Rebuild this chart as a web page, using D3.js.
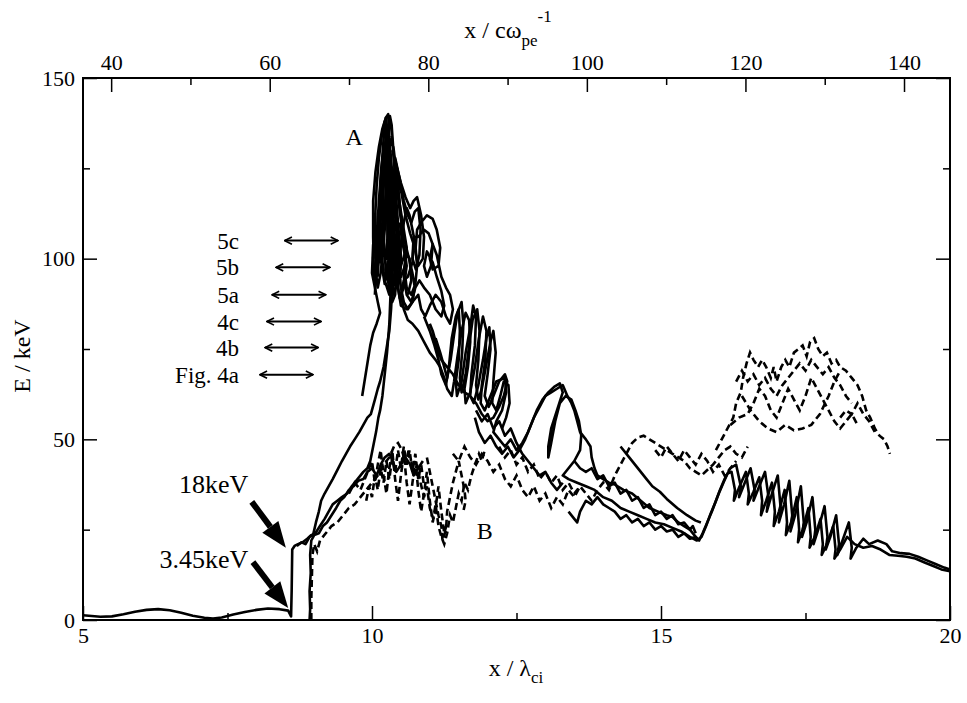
<!DOCTYPE html>
<html>
<head>
<meta charset="utf-8">
<script src="https://cdn.jsdelivr.net/npm/d3@7"></script>
<style>
  body { margin: 0; background: #fff; }
</style>
</head>
<body>
<script>
// axis ticks
var xMajor = [5, 10, 15, 20];
var xMinor = [7.5, 12.5, 17.5];
var yMajor = [0, 50, 100, 150];
var yMinor = [25, 75, 125];
var topMajor = [40, 60, 80, 100, 120, 140];
var topMinor = [50, 70, 90, 110, 130];
var topDomain = [36.45, 145.8];   // x in c/wpe at both ends of the plot

// trajectories, [x / lambda_ci, E / keV]
var solidMain = [[5.00,1.3],[5.15,1.1],[5.3,0.9],[5.5,1.0],[5.7,1.6],[5.9,2.3],[6.1,2.8],[6.3,3.0],[6.5,2.7],[6.7,2.0],[6.9,1.2],[7.1,0.6],[7.25,0.4],[7.4,0.7],[7.6,1.5],[7.8,2.2],[8.0,2.8],[8.2,3.2],[8.4,3.0],[8.55,2.6],[8.6,1.0],[8.61,8],[8.62,19.5],[8.66,20.5],[8.72,21],[8.8,21.5],[8.88,22.5],[8.95,23.5],[9.02,24],[9.1,26],[9.18,28],[9.25,30],[9.32,32],[9.4,33],[9.48,34],[9.57,35],[9.65,37],[9.75,39],[9.85,41],[9.92,42],[9.97,44],[10.02,48],[10.07,52],[10.11,56],[10.14,58],[10.18,62],[10.22,68],[10.26,74],[10.3,82],[10.32,90],[10.3,98],[10.27,108],[10.25,118],[10.27,128],[10.3,136],[10.31,139.5],[10.34,137],[10.37,130],[10.4,122],[10.43,114],[10.47,106],[10.5,101],[10.47,96],[10.4,93],[10.33,97],[10.28,106],[10.26,116],[10.28,126],[10.32,133],[10.37,131],[10.42,124],[10.48,115],[10.55,108],[10.6,103],[10.57,98],[10.5,95],[10.42,96],[10.36,104],[10.35,114],[10.38,122],[10.43,125],[10.5,119],[10.58,112],[10.66,107],[10.72,104],[10.7,99],[10.62,95],[10.55,94],[10.5,90],[10.55,86],[10.62,83],[10.7,82],[10.8,80],[10.9,77],[11.0,74],[11.1,72],[11.18,70],[11.25,67],[11.3,64],[11.38,62],[11.42,66],[11.48,73],[11.55,80],[11.62,85],[11.68,83],[11.7,77],[11.66,70],[11.6,64],[11.62,60],[11.7,63],[11.78,70],[11.85,78],[11.92,84],[11.98,80],[11.96,72],[11.9,65],[11.88,60],[11.95,58],[12.05,62],[12.15,66],[12.3,67],[12.32,63],[12.25,58],[12.15,55],[12.1,52],[12.2,50],[12.3,48],[12.4,50],[12.5,47],[12.6,49],[12.7,52],[12.8,56],[12.9,59],[13.0,62],[13.1,63],[13.2,64],[13.3,65],[13.38,62],[13.45,60],[13.5,58],[13.55,55],[13.6,52],[13.7,50],[13.78,48],[13.8,45],[13.85,42],[13.9,40],[14.0,39],[14.1,38],[14.2,37.5],[14.35,36],[14.5,35],[14.65,33],[14.8,31],[14.95,30],[15.1,29],[15.2,28.5],[15.3,27],[15.4,26],[15.5,25],[15.6,23],[15.66,22],[15.72,24],[15.8,27],[15.88,30],[15.95,33],[16.02,36],[16.1,39],[16.2,42],[16.3,43],[16.38,37],[16.35,34],[16.45,38],[16.55,42],[16.62,36],[16.6,33],[16.7,37],[16.8,41],[16.86,34],[16.83,30],[16.92,35],[17.02,40],[17.07,31],[17.04,27],[17.13,32],[17.22,38.5],[17.27,29],[17.24,24.5],[17.32,29],[17.42,37],[17.47,27],[17.44,23],[17.52,27],[17.62,34],[17.67,25],[17.64,21],[17.72,25],[17.83,31.5],[17.88,23],[17.85,19.5],[17.93,23],[18.03,29],[18.08,21],[18.05,18],[18.13,21.5],[18.25,27],[18.3,20],[18.28,17],[18.38,20],[18.5,22.5],[18.6,21],[18.75,22],[18.9,21],[19.0,19],[19.15,18.5],[19.3,18.3],[19.45,17.5],[19.6,16.5],[19.75,15.5],[19.9,14.5],[20.0,14]];

var solidRise = [[8.7,20.5],[8.78,21.5],[8.85,21],[8.92,23],[8.98,23.5],[9.03,27],[9.08,30],[9.12,33],[9.18,35],[9.25,37],[9.32,39],[9.4,41.5],[9.48,44],[9.55,46],[9.62,48],[9.7,50],[9.78,52],[9.85,54],[9.92,56],[9.98,57],[10.05,61],[10.1,64],[10.14,66],[10.2,70],[10.25,75],[10.3,80],[10.33,86],[10.35,92]];

var solidLeftStrand = [[9.83,62],[9.87,66],[9.92,71],[9.97,76],[10.02,79.5],[10.08,82],[10.14,85],[10.1,88],[10.05,92],[10.03,98],[10.02,106],[10.02,116],[10.06,124],[10.12,131],[10.18,136],[10.24,139],[10.28,140],[10.3,133],[10.33,124],[10.36,114],[10.4,105],[10.42,97],[10.4,90],[10.35,88],[10.3,92],[10.22,100],[10.18,110],[10.17,120],[10.2,128],[10.24,133],[10.28,130],[10.31,120],[10.33,110],[10.35,100],[10.36,94],[10.3,90],[10.22,94],[10.15,102],[10.12,112],[10.15,120],[10.2,124],[10.26,118],[10.3,108],[10.28,98],[10.22,93],[10.18,97],[10.14,104],[10.1,98],[10.05,92],[10.0,96],[10.02,104]];

var solidPeakCore1 = [[10.1,95],[10.14,108],[10.18,120],[10.22,130],[10.26,137],[10.3,132],[10.32,122],[10.35,112],[10.38,102],[10.4,95],[10.36,92],[10.3,100],[10.27,112],[10.26,124],[10.28,134],[10.33,128],[10.37,118],[10.42,108],[10.45,100],[10.43,93],[10.38,90],[10.33,96],[10.3,106],[10.3,118],[10.32,127],[10.36,124],[10.4,115],[10.45,106],[10.5,100],[10.48,94],[10.42,92],[10.37,99],[10.35,110],[10.37,120],[10.4,126],[10.45,120],[10.5,112],[10.55,104],[10.6,98],[10.55,92],[10.48,89],[10.42,95],[10.4,104]];

var solidPeakCore2 = [[10.05,90],[10.08,100],[10.12,112],[10.16,124],[10.2,133],[10.24,139],[10.27,135],[10.29,125],[10.31,114],[10.33,104],[10.34,96],[10.3,92],[10.24,97],[10.2,107],[10.19,118],[10.21,128],[10.25,131],[10.28,122],[10.3,112],[10.32,102],[10.28,95],[10.2,96],[10.15,104],[10.13,115],[10.16,124],[10.2,127],[10.24,120],[10.27,110],[10.26,100],[10.2,101],[10.17,110]];

var solidPeakCore3 = [[10.02,100],[10.05,110],[10.08,120],[10.12,128],[10.17,134],[10.22,138],[10.26,133],[10.28,124],[10.25,114],[10.2,104],[10.15,96],[10.1,92],[10.06,97],[10.08,106],[10.12,116],[10.16,125],[10.2,130],[10.24,126],[10.23,116],[10.19,106],[10.14,99],[10.1,103],[10.12,112]];

var solidPeakCore4 = [[10.34,134],[10.38,128],[10.43,120],[10.48,113],[10.53,108],[10.58,104],[10.64,100],[10.7,96],[10.74,92],[10.7,88],[10.62,86],[10.55,88],[10.5,92],[10.47,98],[10.5,104],[10.55,110],[10.6,114],[10.65,112],[10.7,108],[10.75,104],[10.78,98],[10.75,93],[10.68,90],[10.6,92],[10.56,97],[10.6,102]];

var solidPeakRight = [[10.35,130],[10.42,126],[10.5,121],[10.58,117],[10.66,114],[10.72,116],[10.78,117],[10.85,112],[10.9,106],[10.88,100],[10.8,98],[10.75,102],[10.78,108],[10.85,110],[10.95,112],[11.05,111],[11.12,108],[11.18,103],[11.15,98],[11.05,97],[11.0,100],[11.05,104],[11.12,101],[11.2,95],[11.28,92],[11.35,90],[11.4,86],[11.35,82],[11.28,84],[11.2,88],[11.1,90],[11.0,87],[10.92,84],[10.85,86],[10.8,90],[10.7,88],[10.6,86],[10.5,87],[10.45,92],[10.5,98],[10.58,102],[10.65,100],[10.68,94],[10.62,90]];

var solidPeakRight2 = [[10.4,128],[10.48,122],[10.55,116],[10.62,112],[10.68,110],[10.74,113],[10.8,114],[10.84,108],[10.82,101],[10.76,97],[10.7,100],[10.72,106],[10.8,106],[10.9,108],[10.98,107],[11.05,104],[11.02,98],[10.95,95],[10.9,98],[10.95,102],[11.05,99],[11.12,95],[11.2,91],[11.25,87],[11.2,84],[11.1,86],[11.0,90],[10.9,92],[10.82,94],[10.75,92],[10.68,88],[10.6,90],[10.55,95],[10.58,100],[10.52,105],[10.48,110]];

var solidLoops = [[10.9,84],[11.0,80],[11.08,76],[11.15,72],[11.2,68],[11.28,65],[11.33,70],[11.38,78],[11.45,84],[11.5,86],[11.52,80],[11.5,72],[11.45,66],[11.47,62],[11.55,66],[11.62,74],[11.7,81],[11.75,87],[11.8,84],[11.78,76],[11.72,68],[11.7,62],[11.76,60],[11.84,65],[11.92,72],[11.98,78],[12.03,81],[12.05,75],[12.0,68],[11.95,62],[12.02,59],[12.1,62],[12.2,66],[12.3,68],[12.34,66],[12.28,62],[12.2,59],[12.1,56],[12.0,55],[11.9,57],[11.8,60],[11.7,62],[11.6,63],[11.5,65],[11.4,68],[11.3,70],[11.2,72],[11.12,76],[11.05,80],[11.0,82]];

var solidLoops2 = [[11.1,78],[11.18,74],[11.25,70],[11.3,67],[11.36,72],[11.42,79],[11.48,85],[11.55,88],[11.58,82],[11.56,74],[11.52,67],[11.55,63],[11.62,68],[11.68,76],[11.74,83],[11.82,86],[11.86,80],[11.84,72],[11.8,65],[11.84,61],[11.9,64],[11.98,71],[12.05,77],[12.1,80],[12.14,74],[12.1,66],[12.08,60],[12.15,58],[12.22,62],[12.28,66],[12.36,65],[12.38,60],[12.32,56],[12.25,53]];

var solidSecondBand = [[11.78,56],[11.85,52],[11.95,49],[12.05,51],[12.15,48],[12.25,46],[12.35,48],[12.45,45],[12.55,47],[12.65,50],[12.75,54],[12.85,58],[12.95,61],[13.05,63],[13.15,64.5],[13.25,65.5],[13.3,63],[13.2,58],[13.1,53],[13.05,48],[13.05,45],[13.1,49],[13.17,55],[13.25,60],[13.35,62],[13.45,61],[13.52,58],[13.58,55],[13.62,51],[13.6,47],[13.5,44],[13.4,42],[13.3,40],[13.4,39],[13.55,38],[13.7,37],[13.85,36],[14.0,34],[14.15,33],[14.3,31],[14.45,30],[14.6,29],[14.75,28],[14.9,27],[15.05,26.5],[15.2,25.5],[15.35,24.5],[15.5,23],[15.62,22],[15.7,23],[15.78,26],[15.86,29.5],[15.94,32.5],[16.0,35],[16.08,38],[16.15,40.5],[16.22,41],[16.28,36],[16.26,33],[16.36,37],[16.47,41],[16.52,35],[16.5,32],[16.6,35.5],[16.7,39.5],[16.75,33],[16.73,29],[16.82,33],[16.92,38],[16.97,30],[16.95,26],[17.04,30],[17.14,36],[17.18,27],[17.16,23.5],[17.25,27],[17.35,34],[17.39,25],[17.37,21.5],[17.45,25],[17.55,31],[17.59,23],[17.57,20],[17.66,23],[17.76,28],[17.8,21],[17.78,18],[17.87,21],[17.98,26],[18.02,19.5],[18.0,17],[18.1,19.5],[18.22,23],[18.35,21],[18.5,20],[18.65,20.5],[18.8,19.5],[18.95,18],[19.1,17.8],[19.25,17.5],[19.4,17],[19.55,16],[19.7,15],[19.85,14],[20.0,13.5]];

var solidBand2 = [[13.5,44],[13.6,42],[13.7,41],[13.8,42],[13.9,39],[14.0,40],[14.1,37],[14.2,38],[14.3,35],[14.4,36],[14.5,33],[14.6,34],[14.7,31],[14.8,32],[14.9,29],[15.0,30],[15.1,28],[15.2,29],[15.3,26.5],[15.4,27],[15.5,25],[15.55,26],[15.6,24]];

var solidBand3 = [[13.4,30],[13.5,28],[13.55,27],[13.6,30],[13.7,33],[13.8,32],[13.9,34],[14.0,32],[14.1,31],[14.2,30],[14.3,28],[14.4,29],[14.5,27],[14.6,28],[14.7,26],[14.8,27],[14.9,25],[15.0,26],[15.1,24.5],[15.2,25],[15.3,23],[15.4,24],[15.5,22.5],[15.6,23],[15.65,22]];

var solidArc = [[14.3,48],[14.45,45],[14.55,43],[14.65,41],[14.75,39],[14.85,37],[14.98,35.5],[15.1,33.5],[15.28,31],[15.45,29],[15.6,27.5],[15.69,27]];

var solidLowerBand = [[8.92,0],[8.93,3],[8.92,8],[8.94,13],[8.93,18],[8.95,22],[9.0,23.5],[9.08,24],[9.15,26],[9.22,27],[9.3,29],[9.38,31],[9.45,33],[9.52,34],[9.6,36],[9.68,37],[9.76,38.5],[9.85,39],[9.92,41],[10.0,42],[10.08,40],[10.15,43],[10.22,45],[10.3,46],[10.36,44],[10.42,41],[10.5,43],[10.58,45],[10.66,43],[10.72,40],[10.8,42],[10.88,44]];

var solidMidJag = [[11.8,58],[11.9,55],[12.0,57],[12.1,53],[12.2,55],[12.3,51],[12.4,53],[12.5,49],[12.6,46],[12.7,44],[12.8,42],[12.9,40],[13.0,41],[13.1,38],[13.2,36],[13.3,38]];

var dashedLeft = [[8.95,0],[8.95,6],[8.96,12],[8.97,18],[9.0,21],[9.05,19],[9.1,22],[9.2,24],[9.3,26],[9.4,27],[9.5,29],[9.6,31],[9.7,32],[9.8,34],[9.9,36],[10.0,38],[10.1,40],[10.2,43],[10.3,45],[10.38,48],[10.45,49],[10.52,47],[10.58,43],[10.62,46],[10.68,44],[10.72,40],[10.78,43],[10.84,38],[10.9,34],[10.95,37],[11.0,31],[11.06,28],[11.1,32],[11.15,26],[11.2,23],[11.25,21],[11.3,24],[11.35,29],[11.4,27],[11.45,31],[11.5,35],[11.55,33],[11.6,38],[11.66,36],[11.72,40],[11.78,43],[11.85,46],[11.9,44],[11.95,47]];

var dashedB = [[9.6,35],[9.7,38],[9.8,36],[9.9,40],[10.0,44],[10.05,38],[10.1,43],[10.15,47],[10.2,40],[10.25,35],[10.3,42],[10.35,47],[10.4,39],[10.45,33],[10.5,40],[10.55,46],[10.6,38],[10.65,32],[10.7,38],[10.75,44],[10.8,36],[10.85,30],[10.9,35],[10.95,41],[11.0,33],[11.05,27],[11.1,31],[11.15,37],[11.2,30],[11.25,24],[11.3,27]];

var dashedB2 = [[9.9,33],[9.95,37],[10.0,34],[10.05,40],[10.1,36],[10.15,42],[10.2,38],[10.25,44],[10.3,39],[10.35,45],[10.4,41],[10.45,47],[10.5,42],[10.55,48],[10.6,43],[10.65,47],[10.7,41],[10.75,46],[10.8,39],[10.85,43],[10.9,37]];

var dashedRightB = [[10.95,45],[11.0,41],[11.05,37],[11.1,33],[11.15,29],[11.2,26],[11.22,22],[11.28,25],[11.3,30],[11.35,34],[11.4,38],[11.45,41],[11.5,44],[11.55,40],[11.6,36],[11.62,33],[11.58,30]];

var dashedMid = [[11.4,46],[11.5,44],[11.6,48],[11.7,45],[11.8,43],[11.9,46],[12.0,44],[12.1,41],[12.2,43],[12.3,39],[12.4,37],[12.5,40],[12.6,36],[12.7,34],[12.8,37],[12.9,33],[13.0,35],[13.1,31],[13.2,34],[13.3,32],[13.4,36],[13.5,34],[13.6,37],[13.7,35],[13.8,33],[13.9,36],[14.0,38],[14.1,36],[14.2,40],[14.3,43],[14.4,46],[14.5,49],[14.6,50.5],[14.7,51],[14.8,50],[14.9,49],[15.0,48],[15.1,47],[15.2,46],[15.3,45],[15.4,44],[15.5,42],[15.6,41],[15.7,40],[15.8,41.5],[15.9,43],[16.0,45],[16.1,47],[16.2,48],[16.3,46],[16.4,45],[16.5,48]];

var dashedMid2 = [[12.2,48],[12.3,45],[12.4,47],[12.5,43],[12.6,45],[12.7,41],[12.8,43],[12.9,39],[13.0,41],[13.1,38],[13.2,40],[13.3,36],[13.4,38],[13.5,35],[13.6,37]];

var dashedArch2 = [[14.9,47],[15.0,45],[15.1,48],[15.2,46],[15.3,44],[15.4,47],[15.5,45],[15.6,43],[15.7,46],[15.8,44],[15.9,41],[16.0,43],[16.1,40],[16.2,42],[16.3,44]];

var dashedHump = [[15.95,47],[16.05,50],[16.15,53],[16.25,56],[16.3,60],[16.38,63],[16.42,67],[16.48,71],[16.54,74],[16.6,72],[16.68,70],[16.75,72],[16.82,70],[16.9,67],[16.95,70],[17.0,66],[17.08,70],[17.15,72],[17.22,70],[17.3,74],[17.38,75],[17.45,76],[17.52,73],[17.58,77],[17.65,78],[17.72,75],[17.8,73],[17.87,74],[17.95,71],[18.03,72],[18.1,70],[18.2,69],[18.3,67],[18.4,65],[18.48,62],[18.55,58],[18.62,56],[18.7,53],[18.78,51],[18.86,50],[18.92,48],[18.96,46]];

var dashedHump2 = [[16.3,66],[16.4,69],[16.5,66],[16.6,68],[16.7,65],[16.8,67],[16.9,64],[17.0,62],[17.1,65],[17.2,67],[17.3,69],[17.4,71],[17.5,69],[17.6,72],[17.7,70],[17.8,68],[17.9,70],[18.0,67],[18.1,65],[18.2,62],[18.3,60]];

var dashedHumpInner = [[16.2,54],[16.35,56],[16.5,57],[16.6,60],[16.7,64],[16.8,62],[16.9,58],[17.0,56],[17.1,60],[17.2,64],[17.3,61],[17.4,58],[17.5,62],[17.6,67],[17.7,64],[17.8,61],[17.9,58],[18.0,55],[18.1,53],[18.2,55],[18.3,57],[18.4,54]];

var dashedHumpLow = [[16.4,62],[16.55,58],[16.7,55],[16.85,53],[17.0,52],[17.15,54],[17.3,52.5],[17.45,53],[17.6,54],[17.75,57],[17.9,62],[18.0,66],[18.1,69]];

var dashedHumpRight = [[18.1,56],[18.2,58],[18.3,57],[18.4,60],[18.5,57],[18.6,55],[18.7,52]];

// x ranges marked with double arrows
var rangeLabels = ["Fig. 4a", "4b", "4c", "5a", "5b", "5c"];
var rangeStart = [8.06, 8.15, 8.18, 8.27, 8.34, 8.49];
var rangeEnd = [8.98, 9.07, 9.12, 9.20, 9.27, 9.41];
var rangeE = [67.9, 75.4, 82.6, 90.0, 97.6, 105.0];

// energy arrows
var energyLabels = ["18keV", "3.45keV"];
var energyLabelAt = [[7.86, 35.2], [7.86, 14.4]];
var energyTail = [[7.92, 32.7], [7.94, 16.0]];
var energyTip = [[8.51, 20.0], [8.55, 3.3]];

var W = 967, H = 703;
var m = {left: 83, right: 950, top: 78, bottom: 620};
var serif = "'Liberation Serif', 'Times New Roman', Times, serif";

var svg = d3.select("body").append("svg")
  .attr("width", W)
  .attr("height", H)
  .style("font-family", serif);

var x = d3.scaleLinear().domain([5, 20]).range([m.left, m.right]);
var xTop = d3.scaleLinear().domain(topDomain).range([m.left, m.right]);
var y = d3.scaleLinear().domain([0, 150]).range([m.bottom, m.top]);

function txt(sel, size) {
  return sel.style("font-family", serif).style("font-size", size + "px").attr("fill", "#000");
}

// axes, ticks pointing inward
function styleAxis(g) {
  g.attr("font-family", null);
  g.select(".domain").remove();
  g.selectAll(".tick line").attr("stroke", "#000").attr("stroke-width", 1.5);
  txt(g.selectAll("text"), 22);
}

svg.append("g").attr("transform", "translate(0," + m.bottom + ")")
  .call(d3.axisBottom(x).tickValues(xMajor).tickSize(-14).tickSizeOuter(0).tickPadding(7).tickFormat(d3.format("d")))
  .call(styleAxis);
svg.append("g").attr("transform", "translate(0," + m.bottom + ")")
  .call(d3.axisBottom(x).tickValues(xMinor).tickSize(-7).tickFormat(""))
  .call(styleAxis);

svg.append("g").attr("transform", "translate(0," + m.top + ")")
  .call(d3.axisTop(xTop).tickValues(topMajor).tickSize(-14).tickPadding(8).tickFormat(d3.format("d")))
  .call(styleAxis);
svg.append("g").attr("transform", "translate(0," + m.top + ")")
  .call(d3.axisTop(xTop).tickValues(topMinor).tickSize(-7).tickFormat(""))
  .call(styleAxis);

svg.append("g").attr("transform", "translate(" + m.left + ",0)")
  .call(d3.axisLeft(y).tickValues(yMajor).tickSize(-14).tickPadding(8).tickFormat(d3.format("d")))
  .call(styleAxis);
svg.append("g").attr("transform", "translate(" + m.left + ",0)")
  .call(d3.axisLeft(y).tickValues(yMinor).tickSize(-7).tickFormat(""))
  .call(styleAxis);

svg.append("g").attr("transform", "translate(" + m.right + ",0)")
  .call(d3.axisRight(y).tickValues(yMajor).tickSize(-14).tickFormat(""))
  .call(styleAxis);
svg.append("g").attr("transform", "translate(" + m.right + ",0)")
  .call(d3.axisRight(y).tickValues(yMinor).tickSize(-7).tickFormat(""))
  .call(styleAxis);

// plot frame
svg.append("rect")
  .attr("x", m.left).attr("y", m.top)
  .attr("width", m.right - m.left).attr("height", m.bottom - m.top)
  .attr("fill", "none").attr("stroke", "#000").attr("stroke-width", 2);

// curves
var line = d3.line().x(function(d){ return x(d[0]); }).y(function(d){ return y(d[1]); });
var plot = svg.append("g");

var solids = [solidMain, solidRise, solidLeftStrand, solidPeakCore1, solidPeakCore2, solidPeakCore3, solidPeakCore4,
  solidPeakRight, solidPeakRight2, solidLoops, solidLoops2, solidSecondBand, solidBand2, solidBand3, solidArc,
  solidLowerBand, solidMidJag];
var dashes = [dashedLeft, dashedB, dashedB2, dashedRightB, dashedMid, dashedMid2, dashedArch2,
  dashedHump, dashedHump2, dashedHumpInner, dashedHumpLow, dashedHumpRight];

plot.selectAll(".solid").data(solids).enter().append("path")
  .attr("class", "solid")
  .attr("d", line)
  .attr("fill", "none").attr("stroke", "#000")
  .attr("stroke-width", 2.6).attr("stroke-linejoin", "round");

plot.selectAll(".dash").data(dashes).enter().append("path")
  .attr("class", "dash")
  .attr("d", line)
  .attr("fill", "none").attr("stroke", "#000")
  .attr("stroke-width", 2.6).attr("stroke-dasharray", "7,4");

// double arrows
var defs = svg.append("defs");
defs.append("marker").attr("id", "open").attr("viewBox", "0 0 10 10")
  .attr("refX", 9).attr("refY", 5).attr("markerWidth", 9).attr("markerHeight", 9)
  .attr("markerUnits", "userSpaceOnUse")
  .attr("orient", "auto-start-reverse")
  .append("path").attr("d", "M1,1 L9,5 L1,9").attr("fill", "none").attr("stroke", "#000").attr("stroke-width", 1.8);

rangeLabels.forEach(function(lab, i){
  svg.append("line")
    .attr("x1", x(rangeStart[i])).attr("x2", x(rangeEnd[i]))
    .attr("y1", y(rangeE[i])).attr("y2", y(rangeE[i]))
    .attr("stroke", "#000").attr("stroke-width", 2)
    .attr("marker-start", "url(#open)").attr("marker-end", "url(#open)");
  txt(svg.append("text"), 23)
    .attr("x", 239).attr("y", y(rangeE[i]))
    .attr("dy", "0.35em").attr("text-anchor", "end")
    .text(lab);
});

// energy arrows
energyLabels.forEach(function(lab, i){
  var x0 = x(energyTail[i][0]), y0 = y(energyTail[i][1]);
  var x1 = x(energyTip[i][0]), y1 = y(energyTip[i][1]);
  var ang = Math.atan2(y1 - y0, x1 - x0);
  var hl = 26, hw = 10;
  var bx = x1 - hl * Math.cos(ang), by = y1 - hl * Math.sin(ang);
  svg.append("line")
    .attr("x1", x0).attr("y1", y0).attr("x2", bx).attr("y2", by)
    .attr("stroke", "#000").attr("stroke-width", 6);
  svg.append("path")
    .attr("d", "M" + x1 + "," + y1 +
      "L" + (bx + hw * Math.sin(ang)) + "," + (by - hw * Math.cos(ang)) +
      "L" + (bx - hw * Math.sin(ang)) + "," + (by + hw * Math.cos(ang)) + "Z")
    .attr("fill", "#000");
  txt(svg.append("text"), 26)
    .attr("x", x(energyLabelAt[i][0])).attr("y", y(energyLabelAt[i][1]))
    .attr("text-anchor", "end")
    .text(lab);
});

// region labels
txt(svg.append("text"), 24).attr("x", x(9.69)).attr("y", y(131.5)).attr("text-anchor", "middle").text("A");
txt(svg.append("text"), 24).attr("x", x(11.95)).attr("y", y(22.5)).attr("text-anchor", "middle").text("B");

// axis titles
var xt = txt(svg.append("text"), 24).attr("x", 516).attr("y", 676).attr("text-anchor", "middle");
xt.append("tspan").text("x / \u03bb");
xt.append("tspan").attr("dy", 7).style("font-size", "17px").text("ci");

var tt = txt(svg.append("text"), 24).attr("x", 508).attr("y", 38).attr("text-anchor", "middle");
tt.append("tspan").text("x / c\u03c9");
tt.append("tspan").attr("dy", 8).style("font-size", "17px").text("pe");
tt.append("tspan").attr("dy", -24).style("font-size", "17px").text("-1");

txt(svg.append("text"), 24)
  .attr("transform", "translate(30,356) rotate(-90)")
  .attr("text-anchor", "middle")
  .text("E / keV");
</script>
</body>
</html>
